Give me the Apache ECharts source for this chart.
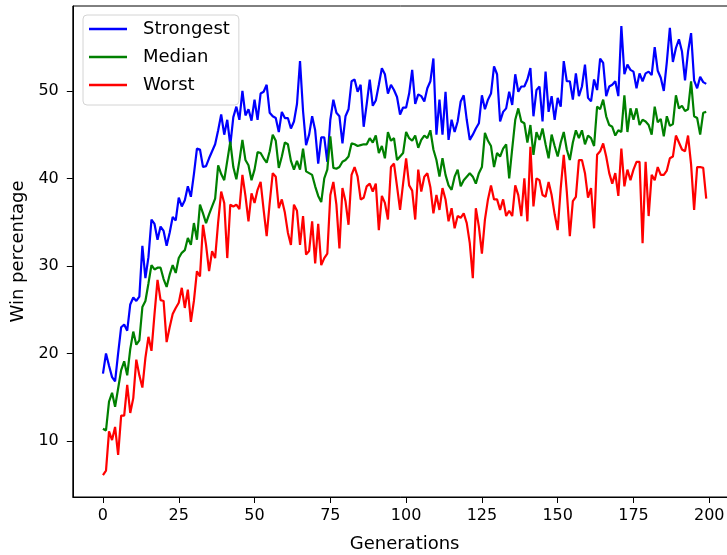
<!DOCTYPE html>
<html><head><meta charset="utf-8">
<script src="https://cdn.jsdelivr.net/npm/echarts@6/dist/echarts.min.js"></script>
<style>html,body{margin:0;padding:0;background:#fff}#c{width:727px;height:555px}</style>
</head><body><div id="c"></div>
<script>
// ---- data ----
const seriesNames = ['Strongest', 'Median', 'Worst'];
const xTickValues = [0, 25, 50, 75, 100, 125, 150, 175, 200];
const yTickValues = [10, 20, 30, 40, 50];

const strongest = [
 17.7,20.0,18.6,17.3,16.8,20.0,23.0,23.3,22.6,25.6,
 26.4,26.0,26.5,32.3,28.6,31.0,35.3,34.8,33.0,34.5,
 34.0,32.3,33.8,35.6,35.2,37.8,36.8,37.5,39.1,37.9,
 40.5,43.4,43.3,41.3,41.4,42.3,43.1,43.9,45.5,47.3,
 45.0,46.7,43.8,47.0,48.2,46.7,50.0,47.2,47.9,46.6,
 49.0,46.7,49.7,49.9,50.7,47.5,47.1,46.9,45.3,47.6,
 46.9,46.9,45.7,46.5,48.5,53.4,47.7,43.8,45.0,47.1,
 45.5,41.7,44.7,44.7,41.9,46.7,49.0,47.5,47.1,44.0,
 47.1,47.9,51.1,51.3,49.9,50.7,45.9,48.5,51.3,48.3,
 48.9,50.7,52.6,51.9,49.7,50.7,50.1,49.3,47.3,48.1,
 48.1,49.7,52.4,48.5,49.6,49.4,48.8,50.3,51.1,53.7,
 45.0,49.0,45.0,49.9,44.4,46.7,45.3,46.5,48.8,49.5,
 46.7,44.4,45.0,45.7,46.3,49.5,47.9,49.0,49.7,52.8,
 51.9,46.5,47.6,48.0,49.9,48.4,51.9,49.9,50.5,50.5,
 51.3,52.6,47.1,50.1,50.5,46.5,52.2,47.6,49.4,46.7,
 49.2,48.2,53.4,51.1,51.1,49.0,52.0,49.4,50.5,53.0,
 49.2,48.8,51.3,50.1,53.7,53.2,49.4,50.5,50.7,51.1,
 49.4,57.4,51.9,53.0,52.4,52.2,50.3,52.0,51.1,52.0,
 52.2,51.8,55.0,52.3,51.5,50.0,53.3,57.2,53.3,54.9,
 55.9,54.5,51.2,54.5,56.6,51.2,50.3,51.6,51.0,50.8
];
const median = [
 11.4,11.2,14.5,15.5,13.9,16.0,18.1,19.1,17.5,20.5,
 22.5,21.0,21.5,25.3,26.0,28.0,30.1,29.6,29.8,29.8,
 28.5,27.6,29.0,30.1,29.2,30.9,31.5,31.8,33.2,32.4,
 34.9,33.0,37.0,36.0,34.9,35.9,36.8,37.7,41.5,40.5,
 39.8,42.0,44.2,41.3,39.9,42.0,44.4,42.1,41.5,39.8,
 41.0,43.0,42.9,42.3,41.8,43.1,45.0,44.3,41.2,42.5,
 44.1,43.9,42.0,41.0,42.0,41.0,43.4,40.8,40.6,40.4,
 39.1,38.0,37.3,40.0,41.0,44.8,41.2,41.1,41.3,41.9,
 42.1,42.5,44.0,43.9,43.7,43.8,43.9,43.9,44.6,44.1,
 44.9,42.9,43.7,42.3,45.3,44.3,44.6,42.1,42.5,42.9,
 45.3,44.6,44.3,44.9,43.5,44.4,44.9,44.6,45.5,43.3,
 42.1,40.2,42.3,40.4,39.2,38.7,40.2,41.0,39.1,39.8,
 40.2,40.6,40.2,39.4,40.6,41.3,45.2,44.3,43.7,41.3,
 42.9,42.5,43.4,43.9,40.0,43.4,46.7,48.0,46.5,46.3,
 44.1,46.1,42.7,45.3,44.4,45.7,43.9,42.3,45.0,43.7,
 42.5,44.1,45.3,43.3,42.1,44.1,45.5,44.6,45.5,43.9,
 44.9,44.6,43.7,48.2,47.9,49.0,47.1,46.1,45.9,44.9,
 45.5,45.3,49.5,45.3,48.0,46.7,48.0,46.1,46.7,46.5,
 46.1,45.0,48.2,46.4,46.8,44.8,47.1,46.0,46.2,49.5,
 48.0,48.3,47.7,47.9,51.1,47.1,46.9,45.0,47.5,47.6
];
const worst = [
 6.1,6.6,11.1,10.1,11.6,8.4,12.9,12.9,16.4,13.2,
 14.9,19.3,17.5,16.1,19.5,21.9,20.3,24.5,28.4,26.1,
 26.0,21.3,23.0,24.5,25.2,25.8,27.5,25.2,27.3,23.6,
 26.0,29.4,28.8,34.7,32.4,29.4,31.7,30.9,35.0,38.5,
 37.2,30.9,37.0,36.8,37.0,36.5,40.4,38.0,35.1,38.3,
 37.2,38.7,39.6,36.4,33.4,37.2,40.6,40.2,36.6,37.6,
 36.1,33.8,32.4,37.0,36.3,32.4,35.7,31.3,31.7,35.1,
 30.3,34.8,30.1,30.9,31.4,38.1,39.6,37.0,32.0,38.9,
 37.4,34.7,40.4,41.3,40.2,37.6,37.8,39.1,39.4,38.5,
 39.4,34.1,38.0,37.2,35.3,41.3,41.7,39.1,36.4,39.4,
 42.3,39.2,38.6,35.3,41.0,38.5,40.2,40.6,39.0,36.0,
 38.1,36.4,38.9,37.6,35.1,36.6,34.3,35.7,35.5,36.0,
 34.9,32.6,28.6,36.6,34.5,31.4,35.3,37.6,39.2,37.6,
 37.6,36.4,37.6,35.7,36.3,35.7,39.2,38.1,35.7,40.0,
 35.1,43.6,36.8,40.0,39.8,38.1,37.9,39.6,38.1,35.9,
 34.1,38.9,42.7,38.5,33.4,37.4,37.9,42.1,42.1,40.6,
 37.8,38.9,34.3,42.7,43.1,44.0,42.5,40.6,39.4,40.6,
 38.0,43.4,39.1,41.0,39.8,41.0,41.9,41.9,32.6,41.9,
 35.7,40.4,39.8,41.3,40.4,40.4,40.9,42.3,42.5,44.9,
 44.1,43.3,43.1,44.9,41.6,36.4,41.3,41.3,41.2,37.7
];
const seriesValues = [strongest, median, worst];
const seriesColors = ['#0000ff', '#008000', '#ff0000'];

const FONT = 'DejaVu Sans';
const chart = echarts.init(document.getElementById('c'), null, {renderer: 'canvas'});

function pairs(vals) { return vals.map((v, i) => [i, v]); }

const option = {
  animation: false,
  backgroundColor: '#ffffff',
  grid: {
    left: 72.8, top: 6, width: 663.6, height: 491,
    show: true, borderColor: '#000', borderWidth: 1, backgroundColor: 'transparent',
    containLabel: false, outerBoundsMode: 'none'
  },
  xAxis: {
    type: 'value', min: -9.95, max: 208.95,
    name: 'Generations', nameLocation: 'middle', nameGap: 38, nameMoveOverlap: false,
    nameTextStyle: {fontFamily: FONT, fontSize: 18, color: '#000'},
    axisLine: {show: true, onZero: false, lineStyle: {color: '#000', width: 1}},
    axisTick: {show: true, length: 6, lineStyle: {color: '#000', width: 1}, customValues: xTickValues},
    axisLabel: {customValues: xTickValues, margin: 11, fontFamily: FONT, fontSize: 16, color: '#000'},
    splitLine: {show: false}
  },
  yAxis: {
    type: 'value', min: 3.6, max: 59.7,
    name: 'Win percentage', nameLocation: 'middle', nameGap: 45, nameMoveOverlap: false,
    nameTextStyle: {fontFamily: FONT, fontSize: 18, color: '#000'},
    axisLine: {show: true, onZero: false, lineStyle: {color: '#000', width: 1}},
    axisTick: {show: true, length: 6, lineStyle: {color: '#000', width: 1}, customValues: yTickValues},
    axisLabel: {customValues: yTickValues, margin: 14, fontFamily: FONT, fontSize: 16, color: '#000'},
    splitLine: {show: false}
  },
  legend: {
    data: seriesNames,
    orient: 'vertical', left: 83, top: 15,
    padding: [5, 9, 11, 6], itemGap: 10,
    itemWidth: 38, itemHeight: 2.5, icon: 'rect',
    backgroundColor: 'rgba(255,255,255,0.8)', borderColor: '#d4d4d4', borderWidth: 1, borderRadius: 4,
    textStyle: {fontFamily: FONT, fontSize: 18, color: '#000', lineHeight: 18, padding: [0, 0, 0, 11]}
  },
  series: seriesNames.map((n, k) => ({
    name: n, type: 'line', data: pairs(seriesValues[k]),
    showSymbol: false, symbol: 'none', color: seriesColors[k],
    lineStyle: {color: seriesColors[k], width: 2.2},
    itemStyle: {color: seriesColors[k]},
    clip: true
  }))
};
chart.setOption(option);
</script>
</body></html>
